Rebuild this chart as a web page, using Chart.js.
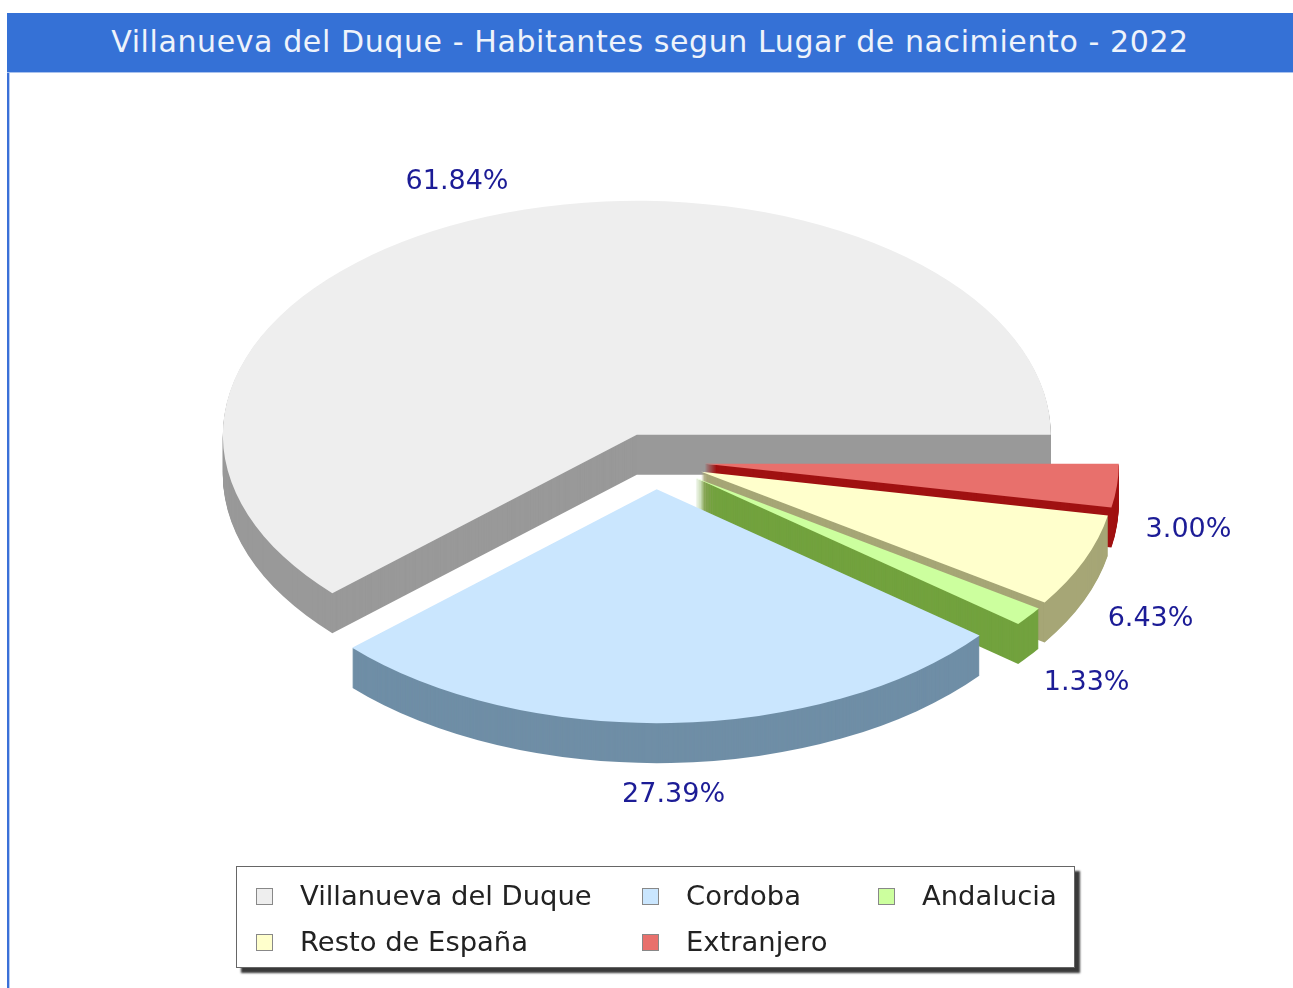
<!DOCTYPE html>
<html>
<head>
<meta charset="utf-8">
<script src="https://cdn.jsdelivr.net/npm/chart.js@4.4.1/dist/chart.umd.min.js"></script>
<style>
  body { margin: 0; background: #fff; width: 1293px; height: 988px; overflow: hidden; position: relative;
         font-family: 'DejaVu Sans', sans-serif; }
  #frame { position: absolute; left: 7px; top: 13px; width: 1300px; height: 1000px;
           border-left: 2px solid #3a70d8; box-shadow: inset 1px 0 0 #b8ccf0; }
  #title { position: absolute; left: 7px; top: 13px; width: 1286px; height: 59px; background: #3571d6;
           border-bottom: 1px solid #a9c2ee; color: #eef3fb; font-size: 30px; letter-spacing: 0.6px;
           line-height: 58px; text-align: center; }
  #pie { position: absolute; left: 0; top: 0; }
  #legend { position: absolute; left: 236px; top: 866px; width: 837px; height: 100px; background: #fff;
            border: 1px solid #666; box-shadow: 5px 5px 2px #3a3a3a; }
  .item { position: absolute; font-size: 27.4px; color: #222; line-height: 30px; white-space: nowrap; }
  .item i { position: absolute; left: 0; top: 7px; width: 15px; height: 15px; border: 1px solid #888; }
  .item span { position: absolute; left: 44px; top: 0; }
</style>
</head>
<body>
<div id="frame"></div>
<canvas id="pie" width="1293" height="988"></canvas>
<div id="title">Villanueva del Duque - Habitantes segun Lugar de nacimiento - 2022</div>
<div id="legend"></div>
<script>
// Data
const categories = ['Villanueva del Duque', 'Cordoba', 'Andalucia', 'Resto de España', 'Extranjero'];
const shares = [61.84, 27.39, 1.33, 6.43, 3.00];
const topColors = ['#eeeeee', '#cae6fe', '#ccff9e', '#ffffcc', '#e8706c'];
const sideColors = ['#999999', '#6f8ea6', '#72a23e', '#a6a676', '#a01212'];

// 3D look
const tilt = 0.565;     // vertical squash of the pie
const depth = 40;       // thickness in px
const explode = 50;     // every slice pulled out by this much
const labelGapX = 29;   // label anchor beyond the rim, horizontally
const labelGapY = 91;   // and vertically (before squash)

// slices go counter clockwise from 3 o'clock in the original, chart.js goes clockwise
const order = categories.map((c, i) => i).reverse();

function placeArc(c, arc, dy) {
    const p = arc.getProps(['x', 'y', 'startAngle', 'endAngle']);
    const mid = (p.startAngle + p.endAngle) / 2;
    c.translate(p.x, p.y + dy);
    c.scale(1, tilt);
    c.translate(-p.x + explode * Math.cos(mid), -p.y + explode * Math.sin(mid));
}

const pie3d = {
    id: 'pie3d',
    beforeDatasetsDraw(chart) {
        const c = chart.ctx;
        const arcs = chart.getDatasetMeta(0).data;
        arcs.forEach(arc => {
            if (!arc.$flat) {
                arc.$flat = arc.draw;
                arc.draw = function (cx) {
                    cx.save();
                    placeArc(cx, this, 0);
                    this.$flat(cx);
                    cx.restore();
                };
            }
        });
        // sides, back slices first
        const sorted = arcs.map((arc, i) => i).sort((a, b) => {
            const ma = (arcs[a].startAngle + arcs[a].endAngle) / 2;
            const mb = (arcs[b].startAngle + arcs[b].endAngle) / 2;
            return Math.sin(ma) - Math.sin(mb);
        });
        sorted.forEach(i => {
            const arc = arcs[i];
            const o = arc.options;
            const side = sideColors[order[i]];
            arc.options = Object.assign({}, o, {backgroundColor: side, borderColor: side});
            for (let d = depth; d >= 1; d--) {
                c.save();
                placeArc(c, arc, d);
                arc.$flat(c);
                c.restore();
            }
            arc.options = o;
        });
    },
    afterDatasetsDraw(chart) {
        const c = chart.ctx;
        const arcs = chart.getDatasetMeta(0).data;
        c.save();
        c.font = '27px "DejaVu Sans"';
        c.fillStyle = '#1c1c96';
        c.textAlign = 'center';
        c.textBaseline = 'middle';
        arcs.forEach((arc, i) => {
            const p = arc.getProps(['x', 'y', 'startAngle', 'endAngle', 'outerRadius']);
            const mid = (p.startAngle + p.endAngle) / 2;
            const cos = Math.cos(mid), sin = Math.sin(mid);
            const text = shares[order[i]].toFixed(2) + '%';
            const w = c.measureText(text).width;
            const ax = p.x + explode * cos;
            const ay = p.y + tilt * explode * sin;
            const lx = ax + (p.outerRadius + labelGapX + w / 2) * cos;
            const ly = ay + tilt * (p.outerRadius + labelGapY) * sin + depth / 2 * (1 + cos);
            c.fillText(text, lx, ly);
        });
        c.restore();
    }
};

new Chart(document.getElementById('pie'), {
    type: 'pie',
    data: {
        labels: order.map(i => categories[i]),
        datasets: [{
            data: order.map(i => shares[i]),
            backgroundColor: order.map(i => topColors[i]),
            borderWidth: 0
        }]
    },
    options: {
        responsive: false,
        animation: false,
        events: [],
        rotation: 90,
        layout: { padding: { left: 241, right: 224, top: 47, bottom: 113 } },
        plugins: { legend: { display: false }, tooltip: { enabled: false } }
    },
    plugins: [pie3d]
});

// Legend, 3 columns
const legend = document.getElementById('legend');
const colX = [19, 405, 641];
categories.forEach((name, i) => {
    const item = document.createElement('div');
    item.className = 'item';
    item.style.left = colX[i % 3] + 'px';
    item.style.top = (14 + Math.floor(i / 3) * 46) + 'px';
    item.innerHTML = `<i style="background:${topColors[i]}"></i><span>${name}</span>`;
    legend.appendChild(item);
});
</script>
</body>
</html>
